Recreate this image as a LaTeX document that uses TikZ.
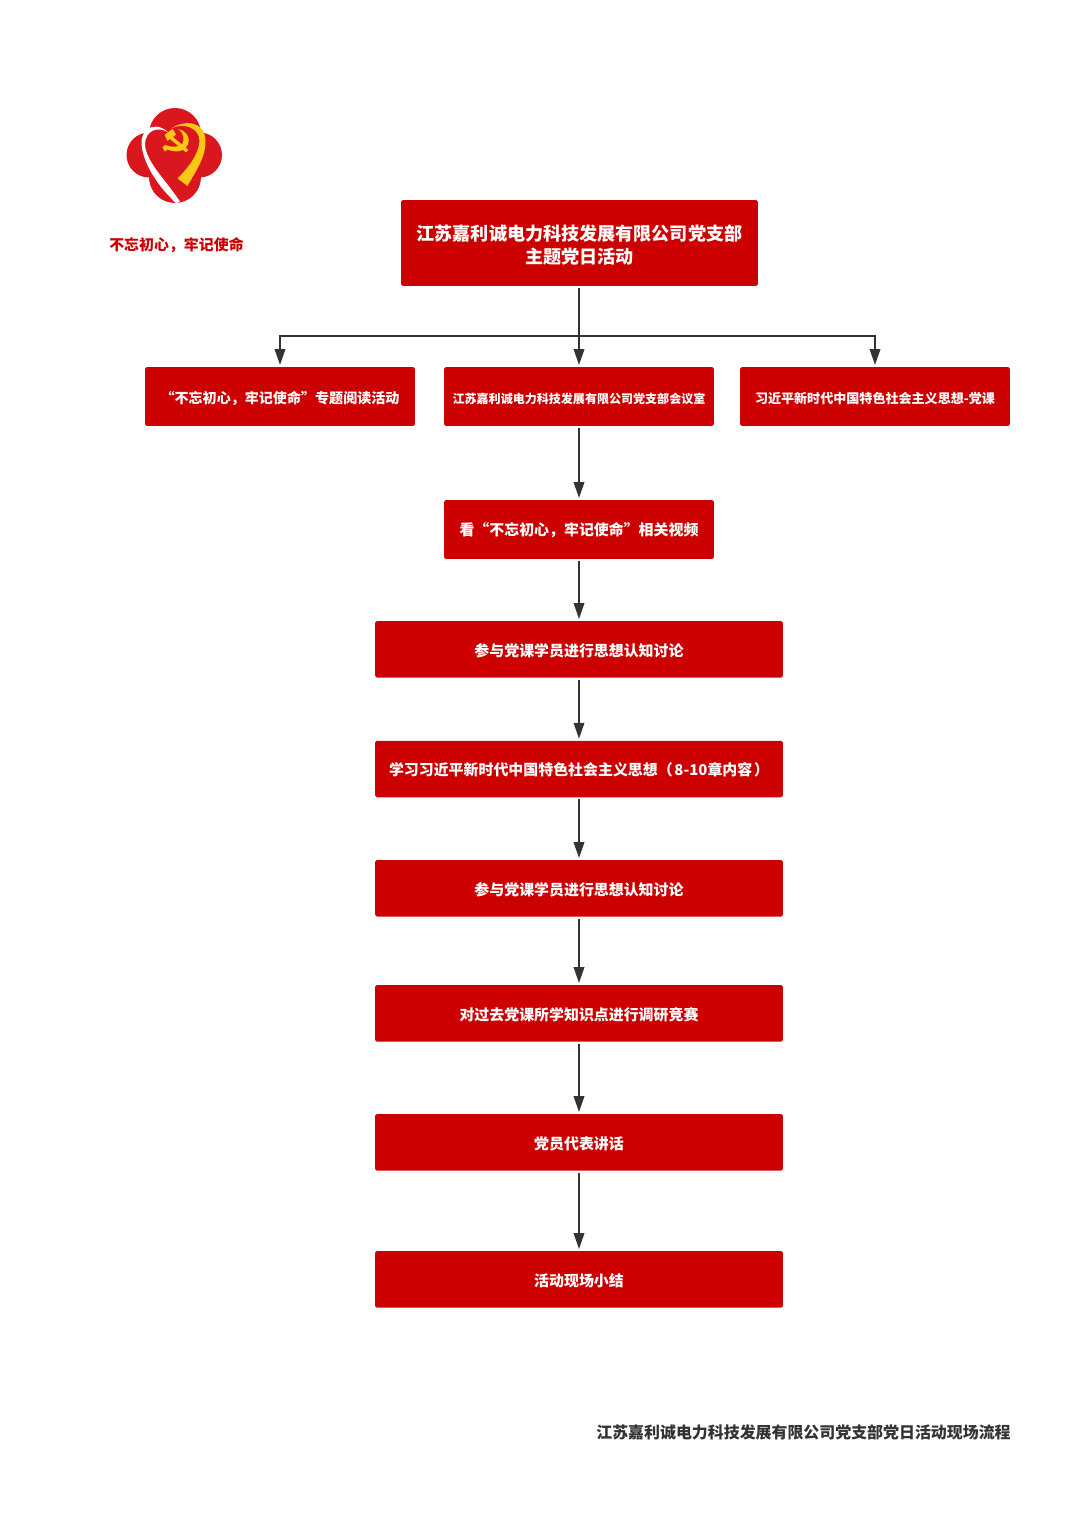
\documentclass[tikz,border=0pt]{standalone}
\usepackage{fontspec}
\setmainfont{Noto Sans CJK SC}
\usetikzlibrary{arrows.meta}
\definecolor{partyred}{RGB}{204,0,0}
\definecolor{logored}{RGB}{218,22,30}
\definecolor{logogold}{RGB}{250,200,20}
\definecolor{linegray}{RGB}{51,51,51}
\tikzset{
  box/.style={fill=partyred, text=white, rounded corners=1pt, align=center, inner sep=0pt, outer sep=0.04cm},
  wide/.style={box, minimum width=8.16cm, minimum height=1.13cm, text height=0.867em, font=\fontsize{8.5}{10}\selectfont\bfseries},
  small/.style={box, minimum width=5.4cm, minimum height=1.18cm, text height=0.867em},
  arrow/.style={draw=linegray, line width=0.04cm, -{Triangle[length=0.32cm, width=0.21cm]}}
}
\begin{document}
\begin{tikzpicture}[x=0.02cm, y=-0.02cm]

\useasboundingbox (0, 0) rectangle (1077, 1540);

% logo
\fill[logored] (175, 134) circle (26);
\fill[logored] (175, 177) circle (26);
\fill[logored] (149, 155) circle (22.5);
\fill[logored] (199.5, 155) circle (22.5);
\fill[logored] (160, 130) rectangle (190, 190);
\fill[logored] (145, 140) rectangle (205, 170);
\fill[white] (168.5, 132.5) .. controls (158, 122) and (142, 126) .. (141.5, 142)
  .. controls (141.5, 158) and (153, 178) .. (165, 191.7)
  -- (176, 203.5) -- (180, 201.5) -- (173, 191.7)
  .. controls (163, 178) and (146, 160) .. (145, 145)
  .. controls (145, 130) and (158, 126) .. (168.5, 132.5) -- cycle;
\fill[logogold] (171, 128.5) .. controls (184, 120) and (204, 120) .. (205.5, 140)
  .. controls (206, 158) and (195, 172) .. (187.5, 186)
  -- (177.5, 178.5)
  .. controls (186, 170) and (199, 155) .. (199.5, 141)
  .. controls (199.5, 128) and (184, 122) .. (171, 128.5) -- cycle;
% sickle
\fill[logogold] (178.5, 129) .. controls (192, 132) and (193, 150) .. (176.5, 151.5)
  .. controls (173, 151.5) and (170, 150.5) .. (167.5, 149.5)
  -- (165, 151.5) -- (162.5, 147.5) -- (165, 145)
  .. controls (172, 147.5) and (179, 147.5) .. (182, 144)
  .. controls (185, 140) and (184, 134) .. (178.5, 129) -- cycle;
% hammer
\fill[logogold] (164.5, 135) -- (172.5, 129) -- (176, 134.5) -- (173, 137)
  -- (188.5, 150) -- (186, 152.5) -- (170, 139) -- (167.5, 141) -- cycle;

\node[font=\fontsize{8.5}{10}\selectfont\bfseries, text=partyred, inner sep=0pt] (slogan) at (176.5, 245) {不忘初心，牢记使命};

\node[box, minimum width=7.14cm, minimum height=1.72cm, font=\fontsize{10.3}{13}\selectfont\bfseries] (title) at (579.5, 243)
  {\rule{0pt}{1.08em}江苏嘉利诚电力科技发展有限公司党支部\\主题党日活动};

\node[small, font=\fontsize{8}{10}\selectfont\bfseries] (reading) at (280, 396.5) {“不忘初心，牢记使命”专题阅读活动};
\node[small, font=\fontsize{6.85}{8}\selectfont\bfseries] (meeting) at (579, 396.5) {江苏嘉利诚电力科技发展有限公司党支部会议室};
\node[small, font=\fontsize{7.43}{9}\selectfont\bfseries] (lecture) at (875, 396.5) {习近平新时代中国特色社会主义思想-党课};
\node[small, font=\fontsize{8.5}{10}\selectfont\bfseries] (video) at (579, 529.5) {看“不忘初心，牢记使命”相关视频};

\node[wide] (discussa) at (579, 649.3) {参与党课学员进行思想认知讨论};
\node[wide] (study) at (579, 769) {学习习近平新时代中国特色社会主义思想（\hspace{1pt}8-10章内容\hspace{1pt}）};
\node[wide] (discussb) at (579, 888.3) {参与党课学员进行思想认知讨论};
\node[wide] (contest) at (579, 1013.3) {对过去党课所学知识点进行调研竞赛};
\node[wide] (speech) at (579, 1142.3) {党员代表讲话};
\node[wide] (summary) at (579, 1279.3) {活动现场小结};

\node[font=\fontsize{9.07}{11}\selectfont\bfseries, text=linegray, anchor=east, inner sep=0pt] (footer) at (1011, 1432) {江苏嘉利诚电力科技发展有限公司党支部党日活动现场流程};

\coordinate (split) at (579, 336);

\draw[draw=linegray, line width=0.04cm] (title.south -| split) -- (split);
\draw[arrow] (split) -- (meeting.north);
\draw[arrow] (split) -| (reading.north);
\draw[arrow] (split) -| (lecture.north);
\draw[arrow] (meeting) -- (video);
\draw[arrow] (video) -- (discussa);
\draw[arrow] (discussa) -- (study);
\draw[arrow] (study) -- (discussb);
\draw[arrow] (discussb) -- (contest);
\draw[arrow] (contest) -- (speech);
\draw[arrow] (speech) -- (summary);

\end{tikzpicture}
\end{document}
